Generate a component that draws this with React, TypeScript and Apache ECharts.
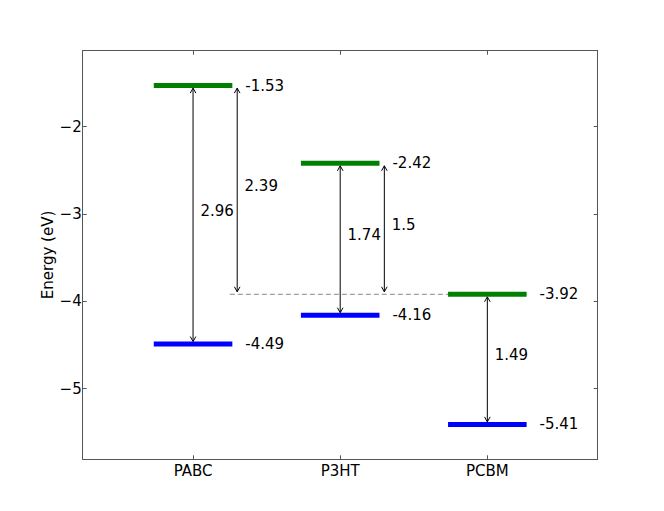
import React, { useEffect, useRef } from 'react';
import * as echarts from 'echarts';

const materials = ['PABC', 'P3HT', 'PCBM'];
const positions = [1, 2, 3];
const lumoLevels = [-1.53, -2.42, -3.92];
const homoLevels = [-4.49, -4.16, -5.41];
const yTicks = [-2, -3, -4, -5];
// offset arrows: from donor LUMO down to the acceptor (PCBM) LUMO
const offsetSources = [0, 1];
const offsetArrowX = [1.3, 2.3];

const FONT = 'DejaVu Sans';
const fmt = (v: number) => String(+v.toFixed(2));

export default function App() {
  const ref = useRef<HTMLDivElement>(null);
  useEffect(() => {
    const chart = echarts.init(ref.current!, null, { renderer: 'svg' });
    const acceptorLumo = lumoLevels[2];
    const levelData = [
      ...positions.map((x, i) => [x, lumoLevels[i], 0]),
      ...positions.map((x, i) => [x, homoLevels[i], 1]),
    ];
    const arrowData: any[] = [
      ...positions.map((x, i) => [x, lumoLevels[i], homoLevels[i]]),
      ...offsetSources.map((m, k) => [offsetArrowX[k], lumoLevels[m], acceptorLumo]),
    ];
    const arrowLabels = arrowData.map((d) => fmt(d[1] - d[2]));

    const frame = { show: true, onZero: false, lineStyle: { color: '#555', width: 1 } };
    const tick = (vals: number[]) => ({
      show: true, inside: true, length: 4, customValues: vals, lineStyle: { color: '#555', width: 1 },
    });
    const xMin = 0.25, xMax = 3.75, yMin = -5.81, yMax = -1.13;

    chart.setOption({
      animation: false,
      grid: { left: 82.7, right: 66.3, top: 50.7, bottom: 51.7 },
      xAxis: [
        {
          type: 'value', min: xMin, max: xMax, position: 'bottom',
          axisLine: frame, axisTick: tick(positions), splitLine: { show: false },
          axisLabel: {
            customValues: positions,
            formatter: (v: number) => materials[positions.indexOf(v)] ?? '',
            color: '#000', fontSize: 15, fontFamily: FONT, margin: 4,
          },
        },
        {
          type: 'value', min: xMin, max: xMax, position: 'top',
          axisLine: frame, axisTick: tick(positions), splitLine: { show: false },
          axisLabel: { show: false },
        },
      ],
      yAxis: [
        {
          type: 'value', min: yMin, max: yMax, position: 'left',
          axisLine: frame, axisTick: tick(yTicks), splitLine: { show: false },
          axisLabel: {
            customValues: yTicks,
            formatter: (v: number) => String(v).replace('-', '\u2212'),
            color: '#000', fontSize: 15, fontFamily: FONT, margin: 1,
          },
          name: 'Energy (eV)', nameLocation: 'middle', nameRotate: 90, nameGap: 27,
          nameMoveOverlap: false,
          nameTextStyle: { color: '#000', fontSize: 15, fontFamily: FONT },
        },
        {
          type: 'value', min: yMin, max: yMax, position: 'right',
          axisLine: frame, axisTick: tick(yTicks), splitLine: { show: false },
          axisLabel: { show: false },
        },
      ],
      series: [
        {
          type: 'line', xAxisIndex: 0, yAxisIndex: 0, symbol: 'none', z: 1,
          data: [[positions[0] + 0.25, acceptorLumo], [positions[2] - 0.25, acceptorLumo]],
          lineStyle: { color: '#888', width: 1, type: [5, 3] },
        },
        {
          type: 'custom', xAxisIndex: 0, yAxisIndex: 0, z: 3,
          data: levelData,
          renderItem: (params: any, api: any) => {
            const x = api.value(0), y = api.value(1), kind = api.value(2);
            const p1 = api.coord([x - 0.25, y]);
            const p2 = api.coord([x + 0.25, y]);
            const pl = api.coord([x + 0.355, y]);
            return {
              type: 'group',
              children: [
                {
                  type: 'line',
                  shape: { x1: p1[0], y1: p1[1], x2: p2[0], y2: p2[1] },
                  style: { stroke: kind === 0 ? '#008000' : '#0000ff', lineWidth: 5, lineCap: 'square' },
                },
                {
                  type: 'text', x: pl[0], y: pl[1],
                  style: {
                    text: fmt(y), fill: '#000', fontSize: 15, fontFamily: FONT,
                    align: 'left', verticalAlign: 'middle',
                  },
                },
              ],
            };
          },
        },
        {
          type: 'custom', xAxisIndex: 0, yAxisIndex: 0, z: 2,
          data: arrowData,
          renderItem: (params: any, api: any) => {
            const x = api.value(0), y1 = api.value(1), y2 = api.value(2);
            const a = api.coord([x, y1]);
            const b = api.coord([x, y2]);
            const m = api.coord([x + 0.05, (y1 + y2) / 2]);
            const sh = 2.5, hl = 5, hw = 2.8;
            const top = a[1] + sh, bot = b[1] - sh, cx = a[0];
            const st = { stroke: '#000', lineWidth: 1, fill: 'none' };
            return {
              type: 'group',
              children: [
                { type: 'line', shape: { x1: cx, y1: top, x2: cx, y2: bot }, style: st },
                { type: 'polyline', shape: { points: [[cx - hw, top + hl], [cx, top], [cx + hw, top + hl]] }, style: st },
                { type: 'polyline', shape: { points: [[cx - hw, bot - hl], [cx, bot], [cx + hw, bot - hl]] }, style: st },
                {
                  type: 'text', x: m[0], y: m[1] + 3.5,
                  style: {
                    text: arrowLabels[params.dataIndex], fill: '#000', fontSize: 15, fontFamily: FONT,
                    align: 'left', verticalAlign: 'bottom',
                  },
                },
              ],
            };
          },
        },
      ],
    });
    return () => chart.dispose();
  }, []);
  return (
    <div
      ref={ref}
      style={{ position: 'fixed', left: 0, top: 0, width: 664, height: 511, background: '#fff' }}
    />
  );
}
